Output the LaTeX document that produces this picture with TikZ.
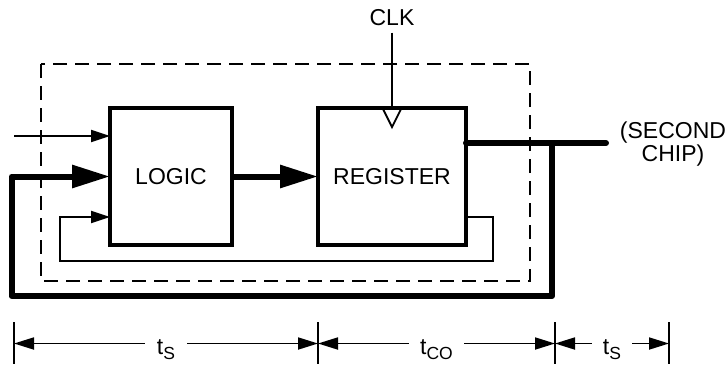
\documentclass[tikz,border=0pt]{standalone}
\usepackage{fontspec}
\setmainfont{Liberation Sans}
\usetikzlibrary{arrows.meta}

\newcommand{\pedice}[1]{\raisebox{-5pt}{\fontsize{17.5}{17.5}\selectfont #1}}

\tikzset{
  blocco/.style={draw, line width=4.3pt, minimum height=137pt, inner sep=0pt, outer sep=0pt},
  spesso/.style={line width=6pt},
  sottile/.style={line width=1.8pt},
  tratteggio/.style={line width=1.8pt, dash pattern=on 14pt off 8pt},
  quota/.style={line width=1.8pt},
  punta grande/.style={-{Triangle[length=38pt,width=22pt]}},
  punta piccola/.style={-{Triangle[length=19pt,width=12pt]}},
  punte quota/.style={{Triangle[length=20pt,width=12pt]}-{Triangle[length=20pt,width=12pt]}}
}

\begin{document}
\begin{tikzpicture}[x=1pt, y=-1pt, font=\fontsize{23}{23.5}\selectfont]
        \useasboundingbox (0,0) rectangle (725,370);

        % Contorno del primo chip
        \draw[tratteggio] (41,64) rectangle (530,281);

        % Blocchi
        \node[blocco, minimum width=122pt] (logic) at (171,176.5) {LOGIC};
        \node[blocco, minimum width=148pt] (register) at (392,176.5) {REGISTER};

        % Clock
        \node (clk) at (392,18) {CLK};
        \draw[sottile, shorten <=3pt] (clk.south) -- (register.north);
        \draw[sottile] (register.north) ++(-9.5,0) -- ++(9.5,19) -- ++(9.5,-19);

        % Ingresso esterno
        \coordinate (in1) at (14,136);
        \draw[sottile, punta piccola] (in1) -- (in1 -| logic.west);

        % Percorso dati LOGIC -> REGISTER
        \draw[spesso, punta grande] (logic.east) -- (register.west);

        % Uscita verso il secondo chip
        \node[align=center] (chip) at (673,144) {(SECOND\\CHIP)};
        \coordinate (outend) at (606,143);
        \coordinate (jn) at (552,143);
        \draw[spesso, line cap=round] (register.east |- outend) -- (outend);

        % Retroazione esterna (spessa)
        \coordinate (lb) at (11.5,296);
        \draw[spesso, line join=round, punta grande] (jn) |- (lb) |- (logic.west);

        % Retroazione interna (sottile)
        \coordinate (fbtop) at (493,217);
        \coordinate (fbr) at (493,261);
        \coordinate (fbl) at (60,261);
        \draw[sottile, punta piccola] (fbtop -| register.east) -- (fbtop) -- (fbr) -- (fbl) |- (fbtop -| logic.west);

        % Quote temporali
        \foreach \nome/\xq in {d0/14, d1/318, d2/555, d3/669} {
            \coordinate (\nome) at (\xq,343.5);
            \draw[quota] (\xq,322) -- (\xq,364);
        }
        \draw[quota, punte quota] (d0) -- (d1) node[midway, fill=white, inner xsep=12pt, yshift=-6pt] {t\pedice{S}};
        \draw[quota, punte quota] (d1) -- (d2) node[midway, fill=white, inner xsep=11pt, yshift=-6pt] {t\pedice{CO}};
        \draw[quota, punte quota] (d2) -- (d3) node[midway, fill=white, inner xsep=11pt, yshift=-6pt] {t\pedice{S}};
    \end{tikzpicture}
\end{document}
